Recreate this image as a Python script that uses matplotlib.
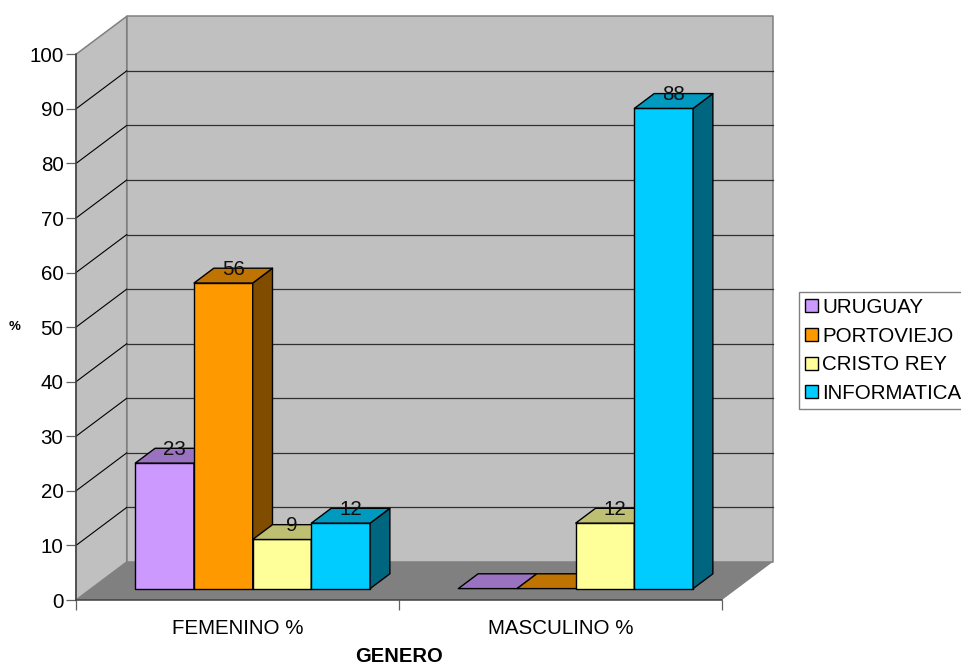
import matplotlib
matplotlib.use('Agg')
import matplotlib.pyplot as plt
from matplotlib.patches import Patch
from matplotlib.colors import to_rgb
from matplotlib.transforms import ScaledTranslation

plt.rcParams['font.family'] = ['Liberation Sans', 'DejaVu Sans']

# Datos del grafico
categorias = ['FEMENINO %', 'MASCULINO %']
series = ['URUGUAY', 'PORTOVIEJO', 'CRISTO REY', 'INFORMATICA']
uruguay = [23, 0]
portoviejo = [56, 0]
cristo_rey = [9, 12]
informatica = [12, 88]
valores = [uruguay, portoviejo, cristo_rey, informatica]
colores = ['#CC99FF', '#FF9900', '#FFFF99', '#00CCFF']
marcas_y = list(range(0, 101, 10))

ANCHO, ALTO = 961, 664
LETRA = 14.8

# Profundidad de la caja en unidades de los ejes
FONDO_X = 0.157
FONDO_Y = 6.96
ANCHO_BARRA = 0.1817
HUECO = 1 - 4 * ANCHO_BARRA
D_FRENTE = 0.30
D_ATRAS = 0.69


def proyectar(x, v, d):
    # d=0 es el plano frontal, d=1 la pared del fondo
    return x + d * FONDO_X, v + d * FONDO_Y


def poligono(ax, puntos, color, borde, lw, z):
    xs, ys = zip(*[proyectar(*p) for p in puntos])
    ax.fill(xs, ys, facecolor=color, edgecolor=borde, linewidth=lw, zorder=z,
            clip_on=False, joinstyle='round')


def tono(color, f):
    return tuple(c * f for c in to_rgb(color))


fig = plt.figure(figsize=(ANCHO / 100, ALTO / 100), dpi=100, facecolor='white')
ax = fig.add_axes([76 / ANCHO, 1 - 600 / ALTO, 646 / ANCHO, 545.7 / ALTO])
ax.set_xlim(0, len(categorias))
ax.set_ylim(0, 100)
ax.patch.set_visible(False)

# Paredes y piso
poligono(ax, [(0, 0, 0), (0, 0, 1), (0, 100, 1), (0, 100, 0)], '#C0C0C0', '#808080', 1.1, 1)
poligono(ax, [(0, 0, 1), (2, 0, 1), (2, 100, 1), (0, 100, 1)], '#C0C0C0', '#808080', 1.1, 1)
poligono(ax, [(0, 0, 0), (2, 0, 0), (2, 0, 1), (0, 0, 1)], '#808080', 'none', 0, 1.5)

# Lineas de division
for v in marcas_y[1:-1]:
    x0, y0 = proyectar(0, v, 0)
    x1, y1 = proyectar(0, v, 1)
    x2, y2 = proyectar(2, v, 1)
    ax.plot([x0, x1], [y0, y1], color='black', lw=0.8, zorder=1.2, clip_on=False)
    ax.plot([x1, x2], [y1, y2], color='#303030', lw=0.9, zorder=1.2, clip_on=False)

# Barras
z = 3
for i in range(len(categorias)):
    for j, serie in enumerate(valores):
        v = serie[i]
        c = colores[j]
        x0 = i + HUECO / 2 + j * ANCHO_BARRA
        x1 = x0 + ANCHO_BARRA
        if v > 0:
            poligono(ax, [(x0, 0, D_FRENTE), (x1, 0, D_FRENTE), (x1, v, D_FRENTE), (x0, v, D_FRENTE)],
                     c, 'black', 1.0, z)
            poligono(ax, [(x1, 0, D_FRENTE), (x1, 0, D_ATRAS), (x1, v, D_ATRAS), (x1, v, D_FRENTE)],
                     tono(c, 0.5), 'black', 1.0, z)
        poligono(ax, [(x0, v, D_FRENTE), (x1, v, D_FRENTE), (x1, v, D_ATRAS), (x0, v, D_ATRAS)],
                 tono(c, 0.75), 'black', 1.0, z)
        z += 0.01

# Etiquetas de valor, solo las distintas de cero
desplazamiento = ScaledTranslation(0, 6.5 / 100, fig.dpi_scale_trans)
for i in range(len(categorias)):
    for j, serie in enumerate(valores):
        v = serie[i]
        if v > 0:
            xc = i + HUECO / 2 + (j + 0.5) * ANCHO_BARRA
            xt, yt = proyectar(xc, v, (D_FRENTE + D_ATRAS) / 2)
            ax.text(xt, yt, str(v), ha='center', va='center', fontsize=LETRA, color='#101010',
                    zorder=10, clip_on=False, transform=ax.transData + desplazamiento)

# Ejes
for lado in ['top', 'right']:
    ax.spines[lado].set_visible(False)
for lado in ['left', 'bottom']:
    ax.spines[lado].set_color('#404040')
    ax.spines[lado].set_linewidth(1.1)
    ax.spines[lado].set_zorder(2)

ax.set_yticks(marcas_y)
ax.tick_params(axis='y', length=7, width=0.9, color='#606060', labelsize=LETRA, pad=2)
ax.set_xticks([0, 1, 2])
ax.set_xticklabels([])
ax.set_xticks([0.5, 1.5], labels=categorias, minor=True)
ax.tick_params(axis='x', which='major', length=7.5, width=0.9, color='#606060')
ax.tick_params(axis='x', which='minor', length=0, labelsize=LETRA, pad=13.5)

ax.set_xlabel('GENERO', fontsize=14.5, fontweight='bold')
ax.xaxis.set_label_coords(0.5, -(656 - 600) / 545.7, transform=ax.transAxes)
ax.xaxis.label.set_verticalalignment('center')
ax.set_ylabel('%', fontsize=9.5, fontweight='bold', rotation=0, ha='center', va='center')
ax.yaxis.set_label_coords((15 - 76) / 646, (600 - 327) / 545.7, transform=ax.transAxes)

# Leyenda, se sale por el borde derecho
manijas = [Patch(facecolor=c, edgecolor='black', linewidth=1.0) for c in colores]
leyenda = fig.legend(manijas, series, loc='upper left', bbox_to_anchor=(799 / ANCHO, 1 - 292 / ALTO),
                     bbox_transform=fig.transFigure, fontsize=LETRA, frameon=True, fancybox=False,
                     edgecolor='#808080', facecolor='white', framealpha=1, borderaxespad=0,
                     handlelength=0.6, handleheight=0.6, handletextpad=0.23, labelspacing=0.47,
                     borderpad=0.3)
leyenda.get_frame().set_linewidth(1.0)

fig.savefig('out.png', dpi=100)
